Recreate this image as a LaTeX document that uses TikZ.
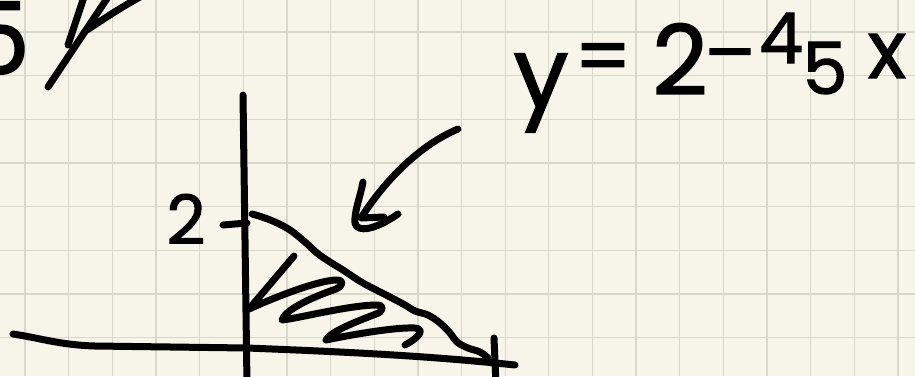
\documentclass[tikz,border=0pt]{standalone}
\usepackage{fontspec}
\setmainfont{Poppins}
\newfontfamily\handfont[FakeBold=1.5]{Poppins}
\definecolor{paper}{RGB}{247,245,233}
\definecolor{gridc}{RGB}{216,215,203}
\tikzset{
  sketch/.style={line width=7pt, line cap=round, line join=round, black},
  gridline/.style={line width=1.3pt, gridc},
  hand/.style={inner sep=0pt, text=black},
}
\newcommand\handsz[1]{\handfont\fontsize{#1}{#1}\selectfont}
\begin{document}
\begin{tikzpicture}[x=1pt,y=-1pt]
\fill[paper] (0,0) rectangle (915,376);
\useasboundingbox (0,0) rectangle (915,376);
% grid
\foreach \k in {0,...,20} {\draw[gridline] ({25+43.65*\k},0) -- ({25+43.65*\k},376);}
\foreach \k in {0,...,7} {\draw[gridline] (0,{32+43.65*\k}) -- (915,{32+43.65*\k});}
% top-left fragment
\node[hand, anchor=east, font=\handsz{100}] (fivecut) at (30,38) {5};
\draw[sketch] (48,87) -- (108,-3);
\draw[sketch] (87,30) .. controls (105,18) and (120,8) .. (140,-3);
\draw[sketch] (68,45) -- (84,-3);
% axes
\draw[sketch] (243,95) -- (247,385);
\draw[sketch] (13,334) .. controls (40,338) and (60,345) .. (95,346) -- (247,348) .. controls (350,352) and (430,356) .. (515,365);
\draw[sketch] (494,338) -- (496,385);
\draw[sketch] (223,225) -- (247,223);
\node[hand, font=\handsz{68}] (ytick) at (186,219) {2};
% line y = 2 - 4/5 x
\draw[sketch] plot[smooth, tension=0.6] coordinates {(252,214) (262,217) (275,222) (290,230) (305,242) (317,253) (330,262) (343,270) (363,283) (390,297) (405,305) (415,311) (428,315) (440,323) (450,333) (457,342) (468,348) (480,352) (488,358)};
% hatching
\draw[sketch] (294,256) -- (249,309) .. controls (280,295) and (320,280) .. (337,280) .. controls (345,280) and (342,287) .. (336,289) .. controls (310,298) and (285,310) .. (282,320) .. controls (300,318) and (350,305) .. (377,305) .. controls (385,305) and (383,312) .. (376,314) .. controls (355,322) and (330,332) .. (326,340) .. controls (350,335) and (395,327) .. (415,328) .. controls (425,329) and (420,337) .. (405,345);
% arrow
\draw[sketch] (458,129) .. controls (420,145) and (385,180) .. (361,218) -- (384,217);
\draw[sketch] (363,182) .. controls (360,198) and (354,212) .. (355,223) .. controls (357,233) and (375,230) .. (398,214);
% equation
\node[hand, font=\handsz{98}] (eqy) at (541,93) {y};
\node[hand, font=\handsz{80}] (eqeq) at (603,64) {=};
\node[hand, font=\handsz{97}] (eqtwo) at (680,59) {2};
\node[hand, font=\handsz{76}] (eqminus) at (730,64) {–};
\node[hand, font=\handsz{70}] (eqfour) at (781,38) {4};
\node[hand, font=\handsz{72}] (eqfive) at (825,68) {5};
\node[hand, font=\handsz{80}] (eqx) at (887,56) {x};
\end{tikzpicture}
\end{document}
